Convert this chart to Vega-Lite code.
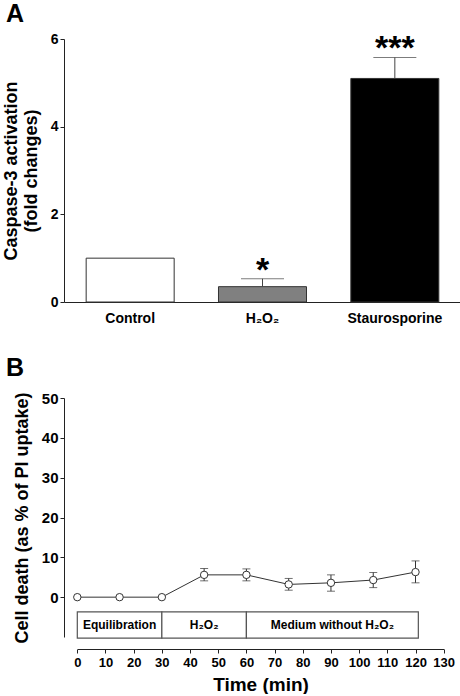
{
  "$schema": "https://vega.github.io/schema/vega-lite/v6.json",
  "background": "white",
  "padding": {"left": 2, "top": 2, "right": 0, "bottom": 0},
  "spacing": 31,
  "config": {
    "font": "Liberation Sans",
    "view": {"stroke": null},
    "axis": {
      "grid": false,
      "domainColor": "#222",
      "tickColor": "#222",
      "labelColor": "black",
      "titleColor": "black",
      "labelFont": "Liberation Sans",
      "titleFont": "Liberation Sans",
      "labelFontWeight": "bold",
      "titleFontWeight": "bold"
    },
    "title": {"font": "Liberation Sans", "fontWeight": "bold", "color": "black"}
  },
  "vconcat": [
    {
      "width": 397,
      "height": 263,
      "title": {"text": "A", "anchor": "start", "frame": "group", "fontSize": 25, "dx": -58, "offset": 5},
      "data": {"values": [
        {"group": "Control", "mean": 1.0, "upper": 1.0, "star": ""},
        {"group": "H₂O₂", "mean": 0.35, "upper": 0.53, "star": "*"},
        {"group": "Staurosporine", "mean": 5.1, "upper": 5.58, "star": "***"}
      ]},
      "layer": [
        {
          "mark": {"type": "bar", "stroke": "#333", "strokeWidth": 1},
          "encoding": {
            "x": {"field": "group", "type": "nominal", "sort": null,
                  "scale": {"paddingInner": 0.335, "paddingOuter": 0.1675},
                  "axis": {"title": null, "labelAngle": 0, "labelFontSize": 14, "ticks": false, "labelPadding": 9}},
            "y": {"field": "mean", "type": "quantitative", "title": ["Caspase-3 activation", "(fold changes)"],
                  "scale": {"domain": [0, 6], "nice": false},
                  "axis": {"values": [0, 2, 4, 6], "tickSize": 4, "labelPadding": 2, "labelFontSize": 14,
                           "titleFontSize": 18, "titleLineHeight": 20, "titlePadding": 10}},
            "fill": {"field": "group", "type": "nominal", "sort": null,
                     "scale": {"domain": ["Control", "H₂O₂", "Staurosporine"], "range": ["white", "#808080", "black"]},
                     "legend": null}
          }
        },
        {
          "transform": [{"filter": "datum.upper > datum.mean"}],
          "mark": {"type": "rule", "color": "#444", "strokeWidth": 1},
          "encoding": {
            "x": {"field": "group", "type": "nominal", "sort": null,
                  "axis": {"title": null, "labelAngle": 0, "labelFontSize": 14, "ticks": false, "labelPadding": 9}},
            "y": {"field": "mean", "type": "quantitative", "title": ["Caspase-3 activation", "(fold changes)"],
                  "axis": {"values": [0, 2, 4, 6], "tickSize": 4, "labelPadding": 2, "labelFontSize": 14,
                           "titleFontSize": 18, "titleLineHeight": 20, "titlePadding": 10}},
            "y2": {"field": "upper"}
          }
        },
        {
          "transform": [{"filter": "datum.upper > datum.mean"}],
          "mark": {"type": "tick", "color": "#444", "thickness": 1, "size": 43},
          "encoding": {
            "x": {"field": "group", "type": "nominal", "sort": null,
                  "axis": {"title": null, "labelAngle": 0, "labelFontSize": 14, "ticks": false, "labelPadding": 9}},
            "y": {"field": "upper", "type": "quantitative", "title": ["Caspase-3 activation", "(fold changes)"],
                  "axis": {"values": [0, 2, 4, 6], "tickSize": 4, "labelPadding": 2, "labelFontSize": 14,
                           "titleFontSize": 18, "titleLineHeight": 20, "titlePadding": 10}}
          }
        },
        {
          "mark": {"type": "text", "fontSize": 34, "fontWeight": "bold", "baseline": "alphabetic", "dy": 2, "color": "black"},
          "encoding": {
            "x": {"field": "group", "type": "nominal", "sort": null,
                  "axis": {"title": null, "labelAngle": 0, "labelFontSize": 14, "ticks": false, "labelPadding": 9}},
            "y": {"field": "upper", "type": "quantitative", "title": ["Caspase-3 activation", "(fold changes)"],
                  "axis": {"values": [0, 2, 4, 6], "tickSize": 4, "labelPadding": 2, "labelFontSize": 14,
                           "titleFontSize": 18, "titleLineHeight": 20, "titlePadding": 10}},
            "text": {"field": "star"}
          }
        }
      ]
    },
    {
      "width": 380,
      "height": 239,
      "title": {"text": "B", "anchor": "start", "frame": "group", "fontSize": 25, "dx": -58, "offset": 10},
      "layer": [
        {
          "data": {"values": [
            {"phase": "Equilibration", "start": 0, "end": 30, "mid": 15},
            {"phase": "H₂O₂", "start": 30, "end": 60, "mid": 45},
            {"phase": "Medium without H₂O₂", "start": 60, "end": 121, "mid": 90.5}
          ]},
          "mark": {"type": "rect", "fill": "white", "stroke": "#555", "strokeWidth": 1.2},
          "encoding": {
            "x": {"field": "start", "type": "quantitative", "title": "Time (min)",
                  "scale": {"domain": [0, 130], "range": [13.3, 379.7], "nice": false},
                  "axis": {"values": [0, 10, 20, 30, 40, 50, 60, 70, 80, 90, 100, 110, 120, 130],
                           "offset": 12, "tickSize": 4, "labelPadding": 3, "labelFontSize": 13,
                           "labelOverlap": false, "labelFlush": false, "titleFontSize": 19, "titlePadding": 6}},
            "x2": {"field": "end"},
            "y": {"datum": -3.7, "type": "quantitative", "title": "Cell death (as % of PI uptake)",
                  "scale": {"domain": [-10, 50], "nice": false},
                  "axis": {"values": [0, 10, 20, 30, 40, 50], "tickSize": 4, "labelPadding": 2, "labelFontSize": 15,
                           "labelOverlap": false, "titleFontSize": 18, "titlePadding": 10}},
            "y2": {"datum": -10.3}
          }
        },
        {
          "data": {"values": [
            {"phase": "Equilibration", "mid": 15},
            {"phase": "H₂O₂", "mid": 45},
            {"phase": "Medium without H₂O₂", "mid": 90.5}
          ]},
          "mark": {"type": "text", "fontSize": 12, "fontWeight": "bold", "baseline": "middle", "color": "black"},
          "encoding": {
            "x": {"field": "mid", "type": "quantitative", "title": "Time (min)",
                  "axis": {"values": [0, 10, 20, 30, 40, 50, 60, 70, 80, 90, 100, 110, 120, 130],
                           "offset": 12, "tickSize": 4, "labelPadding": 3, "labelFontSize": 13,
                           "labelOverlap": false, "labelFlush": false, "titleFontSize": 19, "titlePadding": 6}},
            "y": {"datum": -7.1, "type": "quantitative", "title": "Cell death (as % of PI uptake)",
                  "axis": {"values": [0, 10, 20, 30, 40, 50], "tickSize": 4, "labelPadding": 2, "labelFontSize": 15,
                           "labelOverlap": false, "titleFontSize": 18, "titlePadding": 10}},
            "text": {"field": "phase"}
          }
        },
        {
          "data": {"values": [
            {"time": 0, "value": 0},
            {"time": 15, "value": 0},
            {"time": 30, "value": 0},
            {"time": 45, "value": 5.6, "lo": 4.1, "hi": 7.2},
            {"time": 60, "value": 5.6, "lo": 4.1, "hi": 7.1},
            {"time": 75, "value": 3.2, "lo": 1.75, "hi": 4.7},
            {"time": 90, "value": 3.6, "lo": 1.5, "hi": 5.6},
            {"time": 105, "value": 4.3, "lo": 2.4, "hi": 6.2},
            {"time": 120, "value": 6.3, "lo": 3.6, "hi": 9.1}
          ]},
          "layer": [
            {
              "transform": [{"filter": "isValid(datum.hi)"}],
              "mark": {"type": "errorbar", "ticks": {"size": 8, "color": "#333"}, "rule": {"color": "#333"}, "thickness": 1},
              "encoding": {
                "x": {"field": "time", "type": "quantitative", "title": "Time (min)",
                      "axis": {"values": [0, 10, 20, 30, 40, 50, 60, 70, 80, 90, 100, 110, 120, 130],
                               "offset": 12, "tickSize": 4, "labelPadding": 3, "labelFontSize": 13,
                               "labelOverlap": false, "labelFlush": false, "titleFontSize": 19, "titlePadding": 6}},
                "y": {"field": "lo", "type": "quantitative", "title": "Cell death (as % of PI uptake)",
                      "axis": {"values": [0, 10, 20, 30, 40, 50], "tickSize": 4, "labelPadding": 2, "labelFontSize": 15,
                               "labelOverlap": false, "titleFontSize": 18, "titlePadding": 10}},
                "y2": {"field": "hi"}
              }
            },
            {
              "mark": {"type": "line", "color": "#333", "strokeWidth": 1},
              "encoding": {
                "x": {"field": "time", "type": "quantitative", "title": "Time (min)",
                      "axis": {"values": [0, 10, 20, 30, 40, 50, 60, 70, 80, 90, 100, 110, 120, 130],
                               "offset": 12, "tickSize": 4, "labelPadding": 3, "labelFontSize": 13,
                               "labelOverlap": false, "labelFlush": false, "titleFontSize": 19, "titlePadding": 6}},
                "y": {"field": "value", "type": "quantitative", "title": "Cell death (as % of PI uptake)",
                      "axis": {"values": [0, 10, 20, 30, 40, 50], "tickSize": 4, "labelPadding": 2, "labelFontSize": 15,
                               "labelOverlap": false, "titleFontSize": 18, "titlePadding": 10}}
              }
            },
            {
              "mark": {"type": "point", "filled": true, "fill": "white", "stroke": "#333", "strokeWidth": 1, "size": 55, "opacity": 1},
              "encoding": {
                "x": {"field": "time", "type": "quantitative", "title": "Time (min)",
                      "axis": {"values": [0, 10, 20, 30, 40, 50, 60, 70, 80, 90, 100, 110, 120, 130],
                               "offset": 12, "tickSize": 4, "labelPadding": 3, "labelFontSize": 13,
                               "labelOverlap": false, "labelFlush": false, "titleFontSize": 19, "titlePadding": 6}},
                "y": {"field": "value", "type": "quantitative", "title": "Cell death (as % of PI uptake)",
                      "axis": {"values": [0, 10, 20, 30, 40, 50], "tickSize": 4, "labelPadding": 2, "labelFontSize": 15,
                               "labelOverlap": false, "titleFontSize": 18, "titlePadding": 10}}
              }
            }
          ]
        }
      ]
    }
  ]
}
